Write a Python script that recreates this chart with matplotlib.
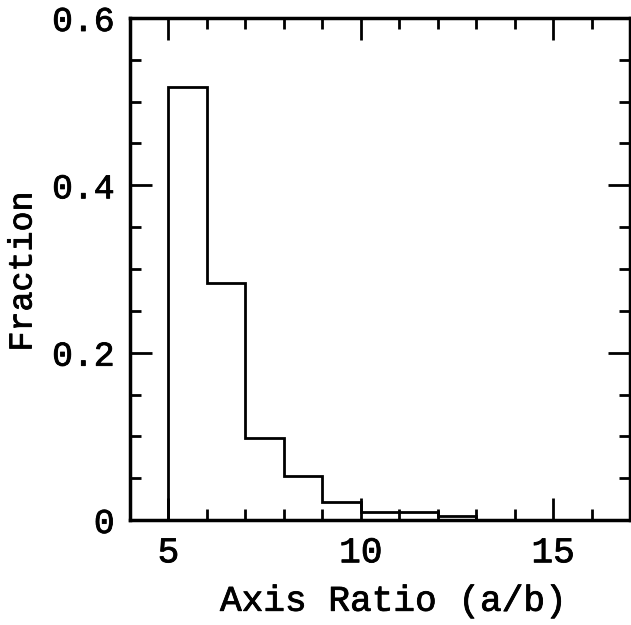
import matplotlib
matplotlib.use("Agg")
import matplotlib.pyplot as plt
import matplotlib.patheffects as pe
from matplotlib.ticker import MultipleLocator

bin_edges = [5, 6, 7, 8, 9, 10, 11, 12, 13]
fractions = [0.517, 0.283, 0.098, 0.052, 0.021, 0.010, 0.010, 0.005]
x_label = "Axis Ratio (a/b)"
y_label = "Fraction"

plt.rcParams['font.family'] = ['Liberation Mono', 'DejaVu Serif']
fig = plt.figure(figsize=(6.31, 6.25), dpi=100)
ax = fig.add_axes([130/631, 105/625, 500/631, 502/625])

ax.stairs(fractions, bin_edges, baseline=0, color='black', linewidth=2)

ax.set_xlim(4, 17)
ax.set_ylim(0, 0.6)
ax.xaxis.set_minor_locator(MultipleLocator(1))
ax.yaxis.set_minor_locator(MultipleLocator(0.05))
ax.set_yticks([0, 0.2, 0.4, 0.6])
ax.set_yticklabels(["0", "0.2", "0.4", "0.6"])
ax.set_xticks([5, 10, 15])
ax.set_xticklabels(["5", "10", "15"])

thick = [pe.withStroke(linewidth=0.6, foreground='black')]

ax.tick_params(which='both', direction='in', top=True, right=True, width=2)
ax.tick_params(which='major', length=16, pad=11)
ax.tick_params(which='minor', length=8)
ax.tick_params(axis='x', labelsize=26)
ax.tick_params(axis='y', which='major', pad=11, labelsize=25)
for lab in ax.get_xticklabels() + ax.get_yticklabels():
    lab.set_path_effects(thick)
for s in ax.spines.values():
    s.set_linewidth(2.5)

ax.set_xlabel(x_label, fontsize=26, path_effects=thick)
ax.set_ylabel(y_label, fontsize=24, path_effects=thick)
ax.xaxis.set_label_coords(0.526, -0.127)
ax.yaxis.set_label_coords(-0.183, 0.495)

fig.savefig("out.png", dpi=100)
